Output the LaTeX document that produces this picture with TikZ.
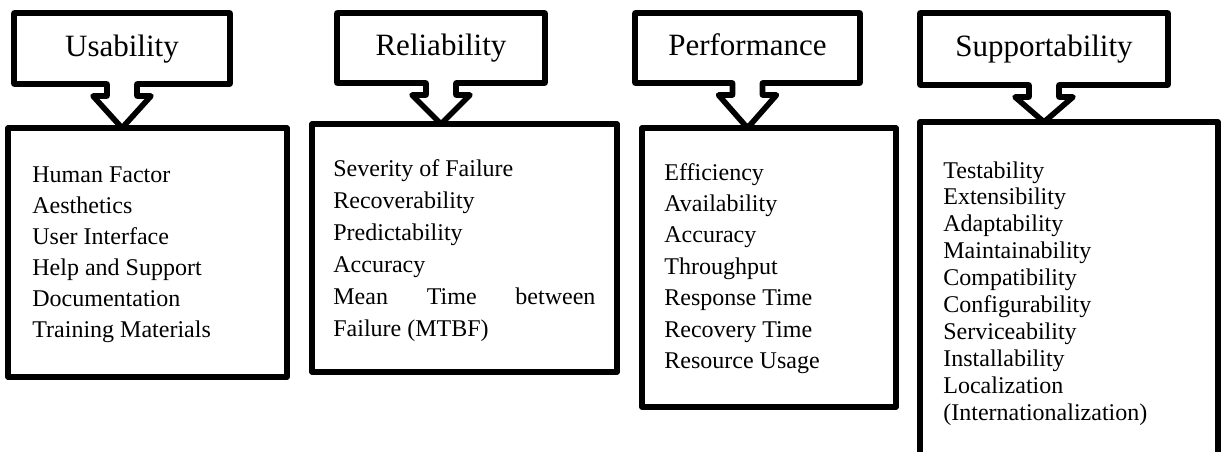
\documentclass[tikz,border=0pt]{standalone}
\usepackage{fontspec}
\setmainfont{Liberation Serif}
\tikzset{
  head/.style={inner sep=0pt, outer sep=0pt, text height=11pt, text depth=3.5pt, font=\fontsize{15.5pt}{18pt}\selectfont},
  body/.style={draw, line width=2.8pt, line join=round, inner sep=0pt, outer sep=0pt, anchor=north west},
  items/.style={inner sep=0pt, anchor=base west, font=\fontsize{12pt}{#1}\selectfont,
    execute at begin node={\rightskip=0pt\relax\spaceskip=0pt\relax\xspaceskip=0pt\relax}},
  outline/.style={line width=2.8pt, line join=round},
}
% header box with its down arrow, #1 = header, #2 = box below
\newcommand{\headarrow}[2]{%
  \draw[outline] (#1.south west) -- (#1.north west) -- (#1.north east) -- (#1.south east)
    -- ([shift={(15,0)}]#1.south) -- ++(0,12) -- ++(14,0) -- (#1.south |- #2.north)
    -- ([shift={(-29,12)}]#1.south) -- ++(14,0) -- ++(0,-12) -- cycle;
}
\begin{document}
\begin{tikzpicture}[x=0.5pt,y=-0.5pt]
 \useasboundingbox (0,0) rectangle (1223,451);
 % usability
 \node[head, minimum width=108pt, minimum height=35.5pt] (uhead) at (122,48.5) {Usability};
 \node[body, minimum width=139.5pt, minimum height=124.5pt] (ubody) at (8,128) {};
 \headarrow{uhead}{ubody}
 \node[items=15.5pt, text width=125pt] (ulist) at (32,182) {Human Factor\\ Aesthetics\\ User Interface\\ Help and Support\\ Documentation\\ Training Materials};
 % reliability
 \node[head, minimum width=104pt, minimum height=35pt] (rhead) at (441,48) {Reliability};
 \node[body, minimum width=152.5pt, minimum height=124pt] (rbody) at (312,124) {};
 \headarrow{rhead}{rbody}
 \node[items=16pt, text width=131pt] (rlist) at (333,176) {Severity of Failure\\ Recoverability\\ Predictability\\ Accuracy\\ Mean Time between\linebreak Failure (MTBF)};
 % performance
 \node[head, minimum width=112.5pt, minimum height=35pt] (phead) at (747.5,48) {Performance};
 \node[body, minimum width=127pt, minimum height=139.5pt] (pbody) at (642,128) {};
 \headarrow{phead}{pbody}
 \node[items=15.7pt, text width=105pt] (plist) at (664,180) {Efficiency\\ Availability\\ Accuracy\\ Throughput\\ Response Time\\ Recovery Time\\ Resource Usage};
 % supportability
 \node[head, minimum width=124pt, minimum height=36pt] (shead) at (1044,49) {Supportability};
 \node[body, minimum width=149pt, minimum height=170pt] (sbody) at (920,122) {};
 \headarrow{shead}{sbody}
 \node[items=13.45pt, text width=130pt] (slist) at (943,178) {Testability\\ Extensibility\\ Adaptability\\ Maintainability\\ Compatibility\\ Configurability\\ Serviceability\\ Installability\\ Localization\\ (Internationalization)};
\end{tikzpicture}
\end{document}
